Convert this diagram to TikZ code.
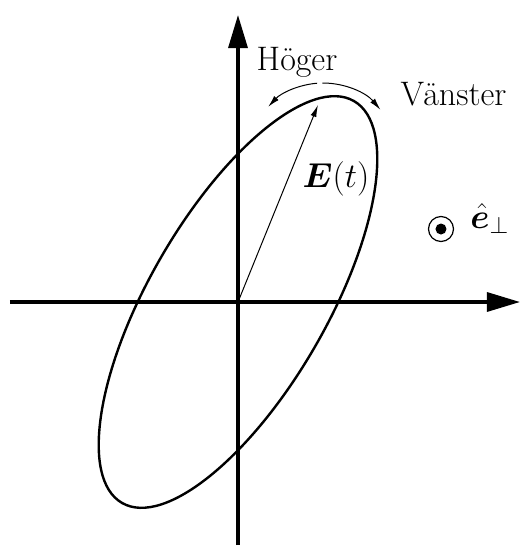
\documentclass[tikz,border=0pt]{standalone}
\usepackage{amsmath,amssymb,bm}
\usepackage{tikz}
\usetikzlibrary{arrows.meta,calc,positioning}

\begin{document}
\begin{tikzpicture}[x=0.5pt,y=0.5pt,>=Latex,
    axis/.style={line width=1.6pt,-{Triangle[length=16.5pt,width=9.5pt]}},
    thinarrow/.style={line width=0.5pt,-{Latex[length=6pt,width=3pt]}},
    lbl/.style={font=\fontsize{17}{20}\selectfont,inner sep=0pt}]
    \useasboundingbox (-238,-245) rectangle (282,302);

    \coordinate (O) at (0,0);
    \coordinate (xL) at (-228,0);
    \coordinate (xR) at (282,0);
    \coordinate (yB) at (0,-243);
    \coordinate (yT) at (0,287);
    \draw[axis] (xL)--(xR);
    \draw[axis] (yB)--(yT);

    % polarisation ellipse
    \draw[line width=1.2pt,rotate=60] (O) ellipse [x radius=232,y radius=89];
    \coordinate (Etip) at (80,197);
    \draw[thinarrow] (O)--(Etip);

    % sense of rotation
    \coordinate (rc) at (85,144);
    \draw[thinarrow] ($(rc)+(94.5:75)$) arc[start angle=94.5,end angle=137,radius=75];
    \draw[thinarrow] ($(rc)+(90.5:75)$) arc[start angle=90.5,end angle=40,radius=75];

    \node[lbl,anchor=base] (hoger) at (59,232) {Höger};
    \node[lbl,anchor=base] (vanster) at (215.5,197) {Vänster};
    \node[lbl,anchor=base] (Et) at (98,115) {$\bm{E}(t)$};

    \node[circle,draw,line width=0.6pt,minimum size=12.5pt,inner sep=0pt] (perp) at (203,73) {};
    \fill (perp.center) circle (5.5);
    \node[lbl,anchor=base west] (eperp) at (232,74) {$\hat{\bm{e}}_\perp$};
  \end{tikzpicture}
\end{document}
